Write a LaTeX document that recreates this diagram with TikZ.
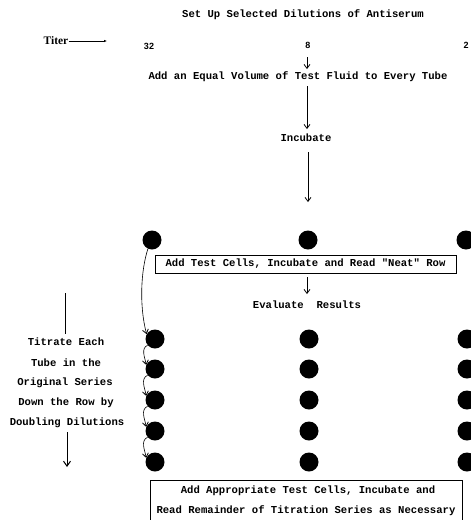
\documentclass[tikz,border=0pt]{standalone}
\usepackage{fontspec}
\setmonofont{Liberation Mono}
\newfontfamily\numfont{Liberation Sans}
\newfontfamily\serfont{Liberation Serif}
\usetikzlibrary{arrows.meta}
\begin{document}
\begin{tikzpicture}[x=1pt,y=-1pt,
  txt/.style={font=\ttfamily\bfseries\fontsize{10.6}{12}\selectfont, inner sep=0pt},
  num/.style={font=\numfont\bfseries\fontsize{9}{10}\selectfont, inner sep=0pt},
  dot/.style={circle, fill=black, minimum size=19pt, inner sep=0pt},
  arr/.style={-{Straight Barb[length=4pt,width=6pt,line width=0.8pt]}, line width=0.6pt},
  boxed/.style={draw, line width=0.7pt, txt, inner xsep=6pt, inner ysep=3pt}]
\useasboundingbox (0,0) rectangle (471,520);
\clip (0,0) rectangle (471,520);
% top
\node[txt] (title) at (303,15) {Set Up Selected Dilutions of Antiserum};
\node[font=\serfont\bfseries\fontsize{11.5}{12}\selectfont, inner sep=0pt] (titer) at (56,41) {Titer};
\coordinate (titerend) at (107,41);
\draw[-{Latex[length=3pt,width=2.5pt]}, line width=0.6pt] (titer.east) -- (titerend);
\node[num] (n32) at (149,46) {32};
\node[num] (n8) at (308,45) {8};
\node[num] (n2) at (466,45) {2};
\node[txt] (equal) at (298,77) {Add an Equal Volume of Test Fluid to Every Tube};
\coordinate (a0s) at (307,57);
\coordinate (a0e) at (307,69);
\draw[arr] (a0s) -- (a0e);
\node[txt] (incub) at (306,138) {Incubate};
\coordinate (a1s) at (307,86);
\coordinate (a1e) at (307,129);
\draw[arr] (a1s) -- (a1e);
% dots row 1
\node[dot] (r1a) at (152,240) {};
\node[dot] (r1b) at (308,240) {};
\node[dot] (r1c) at (466,240) {};
\coordinate (a2s) at (308,152);
\coordinate (a2e) at (308,202);
\draw[arr] (a2s) -- (a2e);
\node[boxed, minimum width=301pt, minimum height=18pt] (box1) at (305.5,264) {Add Test Cells, Incubate and Read "Neat" Row};
\node[txt] (eval) at (307,305) {Evaluate\ \ Results};
\coordinate (a3s) at (307,277);
\coordinate (a3e) at (307,294);
\draw[arr] (a3s) -- (a3e);
% dot rows
\foreach \r/\y in {2/339,3/369,4/400,5/431,6/462}{
  \node[dot] (r\r a) at (155,\y) {};
  \node[dot] (r\r b) at (309,\y) {};
  \node[dot] (r\r c) at (467,\y) {};
}
\draw[arr] (r1a.245) .. controls (141,270) and (139,305) .. (r2a.150);
\foreach \a/\b in {2/3,3/4,4/5,5/6}{
  \draw[arr] (r\a a.220) to[out=205,in=100] (r\b a.155);
}
% left text
\node[txt] (t1) at (66,342) {Titrate Each};
\node[txt] (t2) at (66,363) {Tube in the};
\node[txt] (t3) at (65,383) {Original Series};
\node[txt] (t4) at (66,403) {Down the Row by};
\node[txt] (t5) at (67,423) {Doubling Dilutions};
\coordinate (ltop) at (65,293);
\coordinate (lbot0) at (65,334);
\draw[line width=0.5pt] (ltop) -- (lbot0);
\coordinate (dns) at (67,432);
\coordinate (dne) at (67,467);
\draw[-{Straight Barb[length=5pt,width=7pt,line width=1pt]}, line width=1pt] (dns) -- (dne);
% bottom box
\node[draw, line width=0.7pt, minimum width=312pt, minimum height=60pt, anchor=north west] (box2) at (150,480) {};
\node[txt] (b1) at (308,491) {Add Appropriate Test Cells, Incubate and};
\node[txt] (b2) at (306,511) {Read Remainder of Titration Series as Necessary};
\end{tikzpicture}
\end{document}
